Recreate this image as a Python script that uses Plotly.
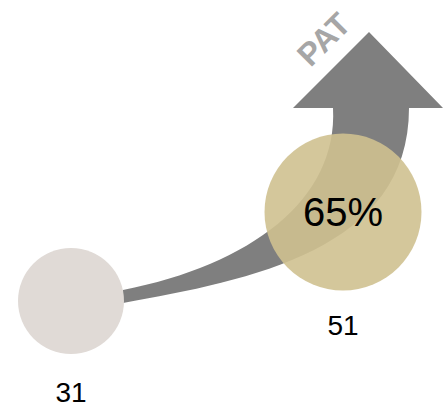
import plotly.graph_objects as go

# ---- data ----
stage_labels = ["31", "51"]
stage_values = [31, 51]
growth_label = "65%"
arrow_label = "PAT"

# ---- layout geometry (pixel space of the 444x417 canvas) ----
W, H = 444, 417
circle_x = [71, 343]
circle_y = [301, 212]
circle_d = [106, 157]
circle_colors = ["rgb(224,218,214)", "rgb(207,193,144)"]
circle_opacity = [1.0, 0.9]
label_y = [395, 328]

fig = go.Figure()

# arrow body + head
body = ("M 123,303 C 250,280 409,250 409,108 "
        "L 443,108 L 369,32 L 293,108 L 333,108 "
        "C 338,200 250,265 123,290 Z")
fig.add_shape(type="path", path=body, xref="x", yref="y",
              fillcolor="#7F7F7F", line=dict(width=0), layer="below")

# circles
fig.add_trace(go.Scatter(
    x=circle_x, y=circle_y, mode="markers",
    marker=dict(size=circle_d, color=circle_colors, opacity=circle_opacity,
                line=dict(width=0)),
    hoverinfo="skip", showlegend=False))

# value labels
fig.add_trace(go.Scatter(
    x=circle_x, y=label_y, mode="text", text=stage_labels,
    textfont=dict(family="Liberation Sans, Arial", size=28, color="#000000"),
    hoverinfo="skip", showlegend=False))

fig.add_annotation(x=circle_x[1], y=circle_y[1], text=growth_label, showarrow=False,
                   font=dict(family="Liberation Sans, Arial", size=40, color="#000000"),
                   xref="x", yref="y")

fig.add_annotation(x=324, y=39, text="<b>%s</b>" % arrow_label, showarrow=False,
                   textangle=-45,
                   font=dict(family="Liberation Sans, Arial", size=32, color="#A6A6A6"),
                   xref="x", yref="y")

fig.update_layout(
    width=W, height=H, margin=dict(l=0, r=0, t=0, b=0),
    paper_bgcolor="white", plot_bgcolor="white",
    xaxis=dict(range=[0, W], visible=False, fixedrange=True),
    yaxis=dict(range=[H, 0], visible=False, fixedrange=True),
)

fig.write_html("out.html", config={"displayModeBar": False})
